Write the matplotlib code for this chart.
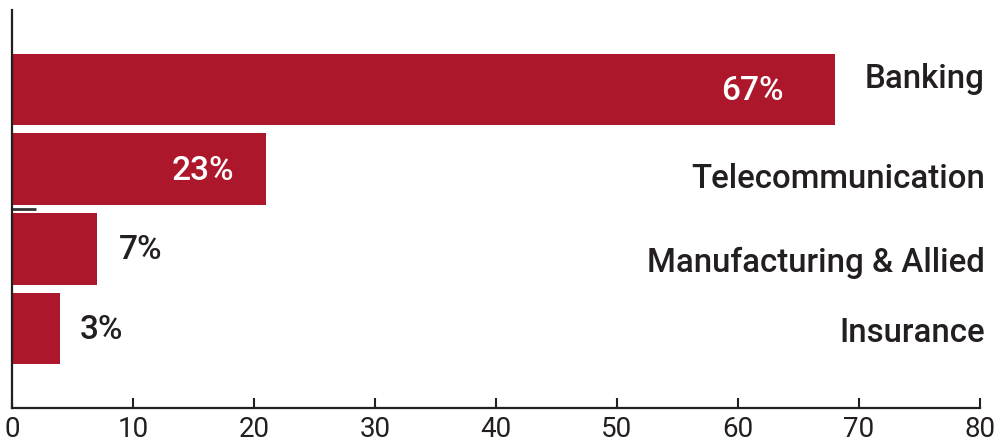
import numpy as np
import matplotlib
matplotlib.use("Agg")
import matplotlib.pyplot as plt

# Data
categories = ["Banking", "Telecommunication", "Manufacturing & Allied", "Insurance"]
bar_values = [68, 21, 7, 4]
value_labels = ["67%", "23%", "7%", "3%"]

# Layout (label placement)
value_offsets = [-6.8, -5.2, 3.6, 3.4]        # x offset of value label centre from bar end
value_colors = ["white", "white", "#231f20", "#231f20"]
name_offsets = [-0.13, 0.12, 0.18, 0.06]      # y offset of category label from bar centre

bar_color = "#ac172b"
text_color = "#231f20"
plt.rcParams["font.family"] = ["Roboto", "DejaVu Sans"]

fig = plt.figure(figsize=(9.98, 4.47), dpi=100)
ax = fig.add_axes([12 / 998, 39 / 447, 968 / 998, 398 / 447])

y = np.arange(len(categories))
ax.barh(y, bar_values, height=0.9, color=bar_color)

for i, (v, lab) in enumerate(zip(bar_values, value_labels)):
    ax.text(v + value_offsets[i], y[i] + 0.02, lab, ha="center", va="center",
            fontsize=24, fontweight="medium", color=value_colors[i])
    ax.text(80.4, y[i] + name_offsets[i], categories[i], ha="right",
            va="center", fontsize=23.8, fontweight="medium", color=text_color)

# stray tick mark between Telecom and Manufacturing
ax.plot([0, 2], [1.5, 1.5], color="#333333", lw=2, solid_capstyle="butt")

ax.set_xlim(0, 80)
ax.set_ylim(4, -1)
ax.set_xticks(np.arange(0, 81, 10))
ax.set_yticks([])
ax.tick_params(axis="x", direction="in", length=7, width=1.5,
               labelsize=20, labelcolor=text_color, color=text_color, pad=6)
for side in ["top", "right"]:
    ax.spines[side].set_visible(False)
for side in ["left", "bottom"]:
    ax.spines[side].set_linewidth(1.6)
    ax.spines[side].set_color(text_color)

plt.savefig("out.png", dpi=100)
